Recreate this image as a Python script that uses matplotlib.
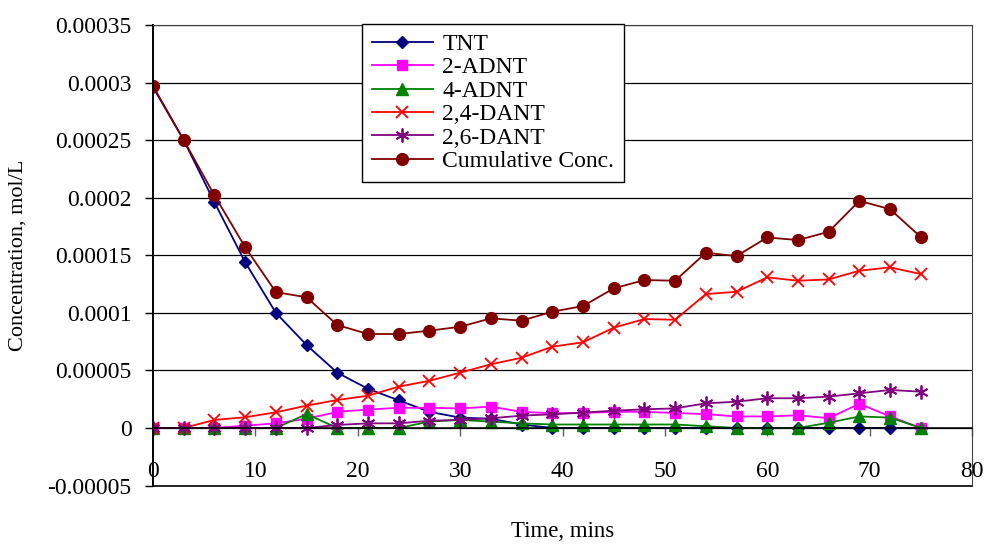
import matplotlib
matplotlib.use("Agg")
import matplotlib.pyplot as plt

plt.rcParams['font.family'] = ['Liberation Serif', 'DejaVu Serif']

# time in minutes
time = [0, 3, 6, 9, 12, 15, 18, 21, 24, 27, 30, 33, 36, 39, 42, 45, 48, 51, 54, 57, 60, 63, 66, 69, 72, 75]

tnt = [0.000296, 0.00025, 0.000196, 0.000144, 0.0001, 0.000072, 0.000048, 0.000034, 0.000024, 0.000014,
       0.000009, 0.000008, 0.000003, 0, 0, 0, 0, 0, 0, 0, 0, 0, 0, 0, 0, 0]
adnt2 = [0, 0, 0, 0.000002, 0.000004, 0.000008, 0.000014, 0.000016, 0.0000175, 0.0000175,
         0.000017, 0.0000185, 0.000014, 0.0000128, 0.000013, 0.000014, 0.000014, 0.000013, 0.000012, 0.00001,
         0.00001, 0.000011, 0.0000085, 0.000021, 0.00001, 0]
adnt4 = [0, 0, 0, 0, 0, 0.000012, 0, 0, 0, 0.0000055,
         0.000007, 0.0000055, 0.000004, 0.000003, 0.000003, 0.000003, 0.000003, 0.000003, 0.0000015, 0,
         0, 0, 0.0000045, 0.00001, 0.000009, 0]
dant24 = [0, 0, 0.000007, 0.0000093, 0.0000136, 0.0000194, 0.0000243, 0.000028, 0.0000359, 0.000041,
          0.000048, 0.0000553, 0.000061, 0.0000706, 0.0000744, 0.0000871, 0.0000946, 0.000094, 0.0001163, 0.0001183,
          0.0001308, 0.0001279, 0.000129, 0.0001366, 0.0001395, 0.0001337]
dant26 = [0, 0, 0, 0, 0, 0, 0.0000026, 0.000004, 0.000004, 0.0000063,
          0.000007, 0.0000084, 0.0000107, 0.0000119, 0.0000133, 0.000015, 0.0000162, 0.000017, 0.0000214, 0.0000228,
          0.0000258, 0.0000258, 0.0000272, 0.0000301, 0.000033, 0.0000315]
cumulative = [0.000297, 0.00025, 0.000202, 0.000157, 0.000118, 0.0001135, 0.0000894, 0.0000816, 0.0000816, 0.0000845,
              0.0000879, 0.0000952, 0.0000932, 0.000101, 0.0001059, 0.0001212, 0.0001285, 0.0001279, 0.0001522, 0.0001493,
              0.0001655, 0.0001632, 0.0001704, 0.0001973, 0.00019, 0.0001658]

y_ticks = [-0.00005, 0, 0.00005, 0.0001, 0.00015, 0.0002, 0.00025, 0.0003, 0.00035]
y_tick_labels = ['-0.00005', '0', '0.00005', '0.0001', '0.00015', '0.0002', '0.00025', '0.0003', '0.00035']
x_ticks = [0, 10, 20, 30, 40, 50, 60, 70, 80]

fig = plt.figure(figsize=(9.86, 5.44), dpi=100)
ax = fig.add_axes([0.1552, 0.1075, 0.8306, 0.8465])

ax.plot(time, tnt, color='#000080', lw=1.3, marker='D', ms=6.5, label='TNT')
ax.plot(time, adnt2, color='#FF00FF', lw=1.3, marker='s', ms=7.5, label='2-ADNT')
ax.plot(time, adnt4, color='#008000', lw=1.3, marker='^', ms=8.5, label='4-ADNT')
ax.plot(time, dant24, color='#FF0000', lw=1.3, marker='x', ms=9, mew=1.3, label='2,4-DANT')
ax.plot(time, dant26, color='#800080', lw=1.3, marker=(6, 2, 0), ms=10, mew=1.3, label='2,6-DANT')
ax.plot(time, cumulative, color='#800000', lw=1.3, marker='o', ms=8.5, label='Cumulative Conc.')

ax.set_xlim(0, 80)
ax.set_ylim(-0.00005, 0.00035)
ax.set_yticks(y_ticks)
ax.set_yticklabels(y_tick_labels)
ax.set_xticks(x_ticks)
ax.set_xticklabels([str(t) for t in x_ticks])

ax.grid(axis='y', color='black', lw=0.9)
ax.axhline(-0.00005, color='black', lw=1.2, clip_on=False)

ax.spines['bottom'].set_position(('data', 0))
ax.spines['bottom'].set_linewidth(1.1)
ax.spines['left'].set_linewidth(1.4)
ax.spines['right'].set_color('#404040')
ax.spines['top'].set_color('#404040')
ax.tick_params(axis='y', direction='out', length=5.5, width=1, pad=10, labelsize=17)
ax.tick_params(axis='x', direction='out', length=5.5, width=1, pad=18, labelsize=17, color='#606060')

ax.set_xlabel('Time, mins', fontsize=16.5)
ax.xaxis.set_label_coords(0.5, -0.077)
ax.set_ylabel('Concentration, mol/L', fontsize=16)
ax.yaxis.set_label_coords(-0.153, 0.5)

leg = ax.legend(loc='upper center', bbox_to_anchor=(0.415, 1.002), borderaxespad=0, fontsize=17,
                frameon=True, fancybox=False, edgecolor='black', framealpha=1, borderpad=0.4,
                labelspacing=0.08, handlelength=2.6, handletextpad=0.4)
leg.get_frame().set_linewidth(1.0)

fig.savefig('out.png', dpi=100)
